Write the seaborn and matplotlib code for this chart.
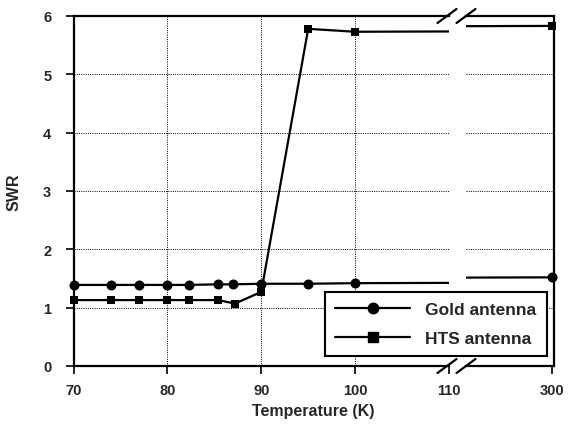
import numpy as np
import pandas as pd
import matplotlib
matplotlib.use("Agg")
import matplotlib.pyplot as plt
import seaborn as sns
from matplotlib.lines import Line2D

# ---- data ----
gold_T = [70, 74, 77, 80, 82.3, 85.4, 87, 90, 95, 100, 300]
gold_swr = [1.39, 1.39, 1.39, 1.39, 1.39, 1.40, 1.40, 1.41, 1.41, 1.42, 1.52]
hts_T = [70, 74, 77, 80, 82.3, 85.4, 87.2, 90, 95, 100, 300]
hts_swr = [1.13, 1.13, 1.13, 1.13, 1.13, 1.13, 1.07, 1.27, 5.78, 5.73, 5.83]
series_names = ["Gold antenna", "HTS antenna"]
left_ticks = [70, 80, 90, 100, 110]
right_ticks = [300]
y_ticks = [0, 1, 2, 3, 4, 5, 6]

sns.set_style("white")
plt.rcParams["font.family"] = ["Liberation Sans", "DejaVu Sans"]

df = pd.concat([
    pd.DataFrame({"T": gold_T, "SWR": gold_swr, "series": series_names[0]}),
    pd.DataFrame({"T": hts_T, "SWR": hts_swr, "series": series_names[1]}),
])

W, H = 570, 427
fig = plt.figure(figsize=(W / 100, H / 100), dpi=100)

def fx(px):
    return px / W

def fy(py):
    return 1 - py / H

top_px, bot_px = 17, 367
l1, r1 = 73.5, 449
l2, r2 = 466, 554
ax1 = fig.add_axes([fx(l1), fy(bot_px), fx(r1 - l1), (bot_px - top_px) / H])
ax2 = fig.add_axes([fx(l2), fy(bot_px), fx(r2 - l2), (bot_px - top_px) / H])

markers = {series_names[0]: "o", series_names[1]: "s"}
msizes = {series_names[0]: 52, series_names[1]: 40}
xlims = {ax1: (70, 110), ax2: (291.0, 300.2)}
dotted = (0, (1, 1.3))

for ax in (ax1, ax2):
    for name in series_names:
        sub = df[df["series"] == name]
        sns.lineplot(data=sub, x="T", y="SWR", ax=ax, color="black",
                     linewidth=1.6, legend=False, sort=False, zorder=3)
        lo, hi = xlims[ax]
        inside = sub[(sub["T"] >= lo - 0.01) & (sub["T"] <= hi + 0.01)]
        sns.scatterplot(data=inside, x="T", y="SWR", ax=ax, color="black",
                        marker=markers[name], s=msizes[name], edgecolor="black",
                        linewidth=0, legend=False, clip_on=False, zorder=4)
    ax.set_xlim(*xlims[ax])
    ax.set_ylim(0, 6)
    ax.set_xlabel("")
    ax.set_ylabel("")
    for sp in ax.spines.values():
        sp.set_color("black")
        sp.set_linewidth(1.6)

ax1.set_xticks(left_ticks)
ax1.set_yticks(y_ticks)
ax1.spines["right"].set_visible(False)
ax1.grid(True, linestyle=dotted, color="black", linewidth=0.7)
ax1.tick_params(axis="both", direction="out", length=6, width=1.2, color="black",
                labelsize=10.5, bottom=True, left=True)
ax1.tick_params(axis="y", pad=10)
ax1.tick_params(axis="x", pad=6)
for lab in ax1.get_xticklabels() + ax1.get_yticklabels():
    lab.set_fontweight("bold")

ax2.set_xticks(right_ticks)
ax2.set_yticks(y_ticks)
ax2.set_yticklabels([])
ax2.spines["left"].set_visible(False)
ax2.grid(True, axis="y", linestyle=dotted, color="black", linewidth=0.7)
ax2.tick_params(axis="y", left=False, right=False)
ax2.tick_params(axis="x", direction="out", length=6, width=1.2, color="black",
                labelsize=10.5, bottom=True, pad=6)
for lab in ax2.get_xticklabels():
    lab.set_fontweight("bold")

# axis break marks
for cx in (r1 - 2, l2):
    for cy in (top_px, bot_px):
        fig.add_artist(Line2D([fx(cx - 9.5), fx(cx + 9.5)], [fy(cy + 7), fy(cy - 7)],
                              color="black", linewidth=1.6))

fig.text(fx(14), fy((top_px + bot_px) / 2), "SWR", rotation=90, ha="center",
         va="center", fontsize=11.5, fontweight="bold")
fig.text(fx(313), fy(412), "Temperature (K)", ha="center", va="center",
         fontsize=11.5, fontweight="bold")

handles = [Line2D([], [], color="black", linewidth=1.6, marker=markers[n],
                  markersize=7.5 if n == series_names[0] else 6.5) for n in series_names]
leg = fig.legend(handles, series_names, loc="lower right",
                 bbox_to_anchor=(fx(547), fy(357)), borderaxespad=0,
                 frameon=True, fancybox=False,
                 edgecolor="black", framealpha=1, fontsize=12.5, handlelength=4.3,
                 borderpad=0.6, labelspacing=0.75, handletextpad=0.9)
leg.get_frame().set_linewidth(1.5)
for t in leg.get_texts():
    t.set_fontweight("bold")

fig.savefig("out.png", dpi=100)
